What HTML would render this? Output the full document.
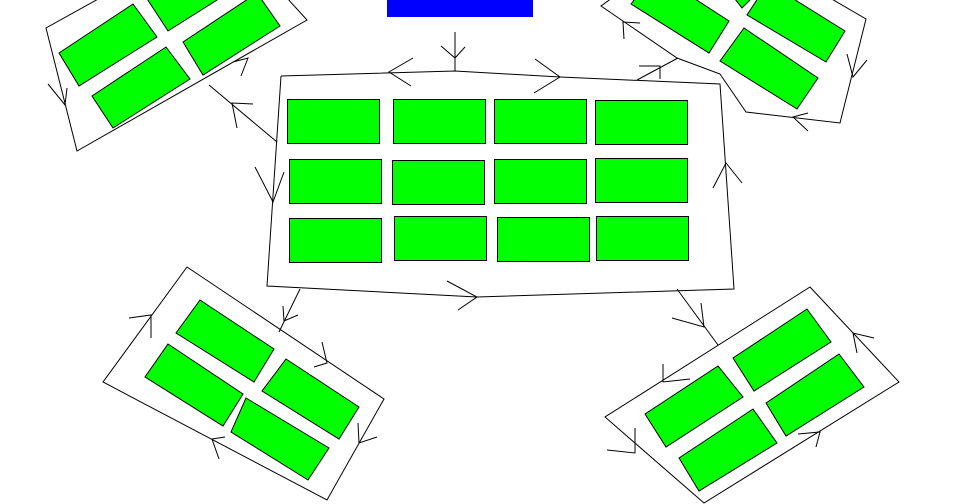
<!DOCTYPE html>
<html><head><meta charset="utf-8"><style>
html,body{margin:0;padding:0;background:#fff;width:960px;height:504px;overflow:hidden}
svg{display:block}
</style></head><body>
<svg width="960" height="504" viewBox="0 0 960 504" xmlns="http://www.w3.org/2000/svg">
<g fill="#00ff00" stroke="#000" stroke-width="1">
<!-- main rects -->
<rect x="287.5" y="99.5" width="92" height="44"/>
<rect x="393.5" y="99.5" width="92" height="44"/>
<rect x="494.5" y="99.5" width="92" height="44"/>
<rect x="595.5" y="100.5" width="92" height="44"/>
<rect x="289.5" y="159.5" width="92" height="44"/>
<rect x="392.5" y="160.5" width="92" height="44"/>
<rect x="494.5" y="159.5" width="92" height="44"/>
<rect x="595.5" y="158.5" width="92" height="44"/>
<rect x="289.5" y="218.5" width="92" height="44"/>
<rect x="394.5" y="216.5" width="92" height="44"/>
<rect x="497.5" y="217.5" width="92" height="44"/>
<rect x="596.5" y="216.5" width="92" height="44"/>
<!-- top-left -->
<polygon points="59,53 133,4 157,37 79,86"/>
<polygon points="140,-12 168,31 225,-5 200,-40"/>
<polygon points="183,42 257,-7 280,26 203,75"/>
<polygon points="92,96 166,47 190,79 113,128"/>
<!-- top-right -->
<polygon points="631,4 709,53 729,21 655,-27"/>
<polygon points="720,-20 742,8 760,-10"/>
<polygon points="747,15 826,62 845,31 768,-17"/>
<polygon points="720,61 744,28 818,78 797,109"/>
<!-- bottom-left -->
<polygon points="200,300 274,349 254,382 176,333"/>
<polygon points="168,344 243,394 223,426 145,377"/>
<polygon points="286,359 359,407 339,439 262,391"/>
<polygon points="246,398 329,448 308,480 231,432"/>
<!-- bottom-right -->
<polygon points="807,309 831,342 754,391 733,358"/>
<polygon points="718,366 743,397 666,447 645,414"/>
<polygon points="839,354 864,387 786,436 766,403"/>
<polygon points="753,409 777,443 699,491 679,458"/>
</g>
<rect x="387" y="0" width="146" height="17" fill="#0000ff"/>
<g fill="none" stroke="#000" stroke-width="1">
<!-- main outline -->
<polyline points="281,76 455,71 560,77 720,84 734,289 477,297 267,286 281,76"/>
<!-- outlines -->
<polyline points="100,-2 46,28 77,151 307,20 287,-2"/>
<polyline points="612,-2 601,6 677,58 720,74 746,112 840,123 866,19 830,-2"/>
<polygon points="187,267 103,382 327,500 384,399"/>
<polygon points="810,287 899,382 704,503 605,417"/>
<!-- connectors -->
<line x1="455" y1="32" x2="455" y2="71"/>
<line x1="209" y1="85" x2="277" y2="142"/>
<line x1="637" y1="80" x2="678" y2="58"/>
<line x1="300" y1="289" x2="279" y2="332"/>
<line x1="677" y1="289" x2="718" y2="345"/>
<!-- arrowheads -->
<polyline points="441,46 455,58 465,47"/>
<polyline points="413,58 389,72 411,86"/>
<polyline points="535,59 560,77 534,93"/>
<polyline points="639,66 660,66 660,79"/>
<polyline points="255,167 273,202 284,172"/>
<polyline points="713,188 726,163 742,183"/>
<polyline points="447,281 477,297 458,310"/>
<polyline points="253,104 232,103 237,128"/>
<polyline points="48,84 65,105 67,88"/>
<polyline points="233,62 248,58 241,76"/>
<polyline points="640,23 623,22 624,39"/>
<polyline points="847,54 853,77 867,60"/>
<polyline points="808,113 793,117 808,131"/>
<polyline points="129,318 151,315 151,338"/>
<polyline points="283,306 284,321 298,315"/>
<polyline points="322,342 327,363 314,367"/>
<polyline points="358,423 359,443 377,437"/>
<polyline points="225,437 212,439 219,459"/>
<polyline points="672,318 704,327 701,303"/>
<polyline points="663,364 663,382 690,379"/>
<polyline points="607,450 635,453 635,428"/>
<polyline points="874,338 853,333 857,353"/>
<polyline points="798,434 820,432 816,447"/>
</g>
</svg>
</body></html>
